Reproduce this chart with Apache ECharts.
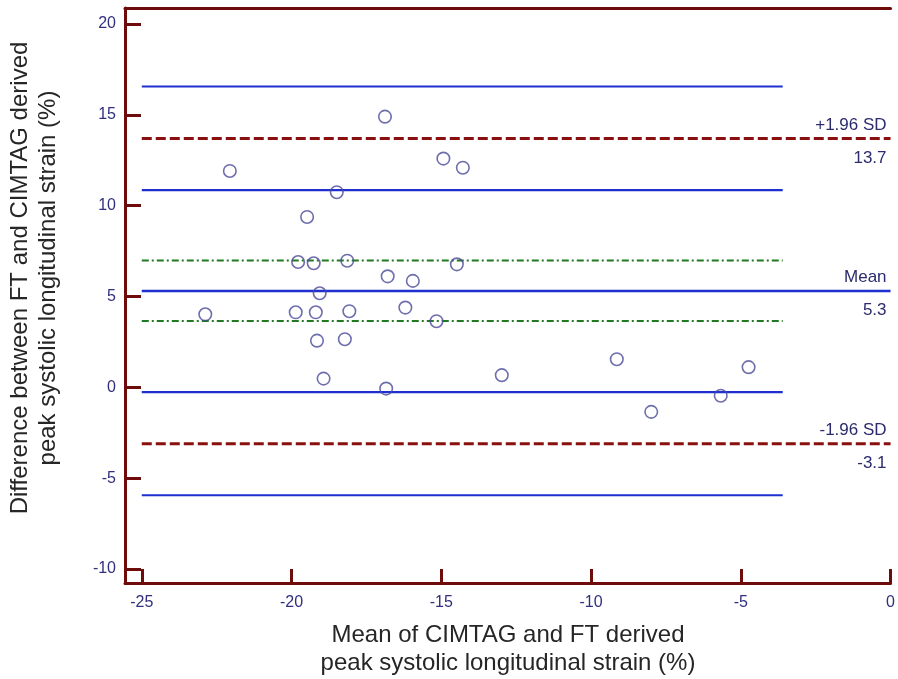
<!DOCTYPE html>
<html>
<head>
<meta charset="utf-8">
<script src="https://cdn.jsdelivr.net/npm/echarts@6/dist/echarts.min.js"></script>
<style>
html,body{margin:0;padding:0;background:#fff;}
#c{width:898px;height:679px;}
</style>
</head>
<body>
<div id="c"></div>
<script>
// ---- data ----
const meanValues = [-22.88,-22.06,-19.78,-19.86,-19.48,-19.26,-19.19,-19.15,-19.06,-18.93,-18.49,-18.14,-18.22,-18.07,-16.88,-16.79,-16.84,-16.20,-15.95,-15.16,-14.93,-14.48,-14.28,-12.98,-9.14,-7.99,-5.67,-4.74];
const diffValues = [4.02,11.91,6.90,4.13,9.38,6.83,4.13,2.57,5.18,0.48,10.74,6.97,2.65,4.19,14.90,6.11,-0.07,4.39,5.86,3.64,12.59,6.77,12.09,0.67,1.55,-1.35,-0.46,1.11];
const meanDiff = 5.3;
const upperLoA = 13.7;
const lowerLoA = -3.1;
const meanCI = [3.65, 6.98];
const upperCI = [10.86, 16.56];
const lowerCI = [-5.94, -0.26];
const lineStart = -25;
const shortEnd = -3.6;
const longEnd = 0;
const xTicks = [-25,-20,-15,-10,-5,0];
const yTicks = [-10,-5,0,5,10,15,20];
const upperLabels = ['+1.96 SD', '13.7'];
const meanLabels = ['Mean', '5.3'];
const lowerLabels = ['-1.96 SD', '-3.1'];
const xTitle = 'Mean of CIMTAG and FT derived\npeak systolic longitudinal strain (%)';
const yTitle = 'Difference between FT and CIMTAG derived\npeak systolic longitudinal strain (%)';

// ---- styles ----
const axisColor = '#6e0c0c';
const tickLabelColor = '#30307f';
const blue = '#1f2fd0';
const red = '#8a0f0f';
const green = '#217a21';
const ptColor = '#4a4a98';
const txtColor = '#2b2b6e';

function hline(y, x1, x2, style) {
  return {
    type: 'line', data: [[x1, y], [x2, y]], symbol: 'none', silent: true,
    lineStyle: style, z: 2, animation: false
  };
}
const blueStyle = {color: blue, width: 2.2, type: 'solid'};
const redStyle = {color: red, width: 3, type: [10, 4]};
const greenStyle = {color: green, width: 2, type: [7, 3, 2, 3]};

const chart = echarts.init(document.getElementById('c'));
const option = {
  animation: false,
  backgroundColor: '#fff',
  grid: {left: 125, right: 6, top: 8, bottom: 96, containLabel: false},
  xAxis: [{
    type: 'value', min: -25.56, max: 0, position: 'bottom',
    axisLine: {show: true, onZero: false, lineStyle: {color: axisColor, width: 3}},
    axisTick: {show: true, inside: true, length: 14, lineStyle: {color: axisColor, width: 3}, customValues: xTicks},
    axisLabel: {show: true, margin: 12, color: tickLabelColor, fontFamily: 'Liberation Sans', fontSize: 16, customValues: xTicks},
    splitLine: {show: false}
  }, {
    type: 'value', min: -25.56, max: 0, position: 'top',
    axisLine: {show: true, onZero: false, lineStyle: {color: axisColor, width: 3}},
    axisTick: {show: false}, axisLabel: {show: false}, splitLine: {show: false}
  }],
  yAxis: {
    type: 'value', min: -10.77, max: 20.88,
    axisLine: {show: true, onZero: false, lineStyle: {color: axisColor, width: 3}},
    axisTick: {show: true, inside: true, length: 16, lineStyle: {color: axisColor, width: 3}, customValues: yTicks},
    axisLabel: {show: true, margin: 9, color: tickLabelColor, fontFamily: 'Liberation Sans', fontSize: 16, customValues: yTicks},
    splitLine: {show: false}
  },
  series: [
    hline(upperCI[1], lineStart, shortEnd, blueStyle),
    hline(upperCI[0], lineStart, shortEnd, blueStyle),
    hline(lowerCI[1], lineStart, shortEnd, blueStyle),
    hline(lowerCI[0], lineStart, shortEnd, blueStyle),
    hline(meanDiff, lineStart, longEnd, {color: blue, width: 2.6, type: 'solid'}),
    hline(meanCI[1], lineStart, shortEnd, greenStyle),
    hline(meanCI[0], lineStart, shortEnd, greenStyle),
    hline(upperLoA, lineStart, longEnd, redStyle),
    hline(lowerLoA, lineStart, longEnd, redStyle),
    {
      type: 'scatter', z: 5, symbol: 'circle', symbolSize: 12.5,
      data: meanValues.map((x, i) => [x, diffValues[i]]),
      itemStyle: {color: 'rgba(0,0,0,0)', borderColor: ptColor, borderWidth: 1.6}
    }
  ]
};
chart.setOption(option);

const g = [];
function sideLabels(val, labels) {
  const p = chart.convertToPixel({xAxisIndex: 0, yAxisIndex: 0}, [longEnd, val]);
  const right = p[0] - 4;
  g.push({type: 'text', x: right, y: p[1] - 5, style: {text: labels[0], fill: txtColor, font: '17px "Liberation Sans"', align: 'right', verticalAlign: 'bottom'}});
  g.push({type: 'text', x: right, y: p[1] + 11, style: {text: labels[1], fill: txtColor, font: '17px "Liberation Sans"', align: 'right', verticalAlign: 'top'}});
}
sideLabels(upperLoA, upperLabels);
sideLabels(meanDiff, meanLabels);
sideLabels(lowerLoA, lowerLabels);
g.push({type: 'text', x: 508, y: 649, style: {text: xTitle, fill: '#262626', font: '24px "Liberation Sans"', align: 'center', verticalAlign: 'middle', lineHeight: 28}});
g.push({type: 'text', x: 34, y: 278, rotation: Math.PI / 2, style: {text: yTitle, fill: '#262626', font: '24px "Liberation Sans"', align: 'center', verticalAlign: 'middle', lineHeight: 28}});
chart.setOption({graphic: g});
</script>
</body>
</html>
